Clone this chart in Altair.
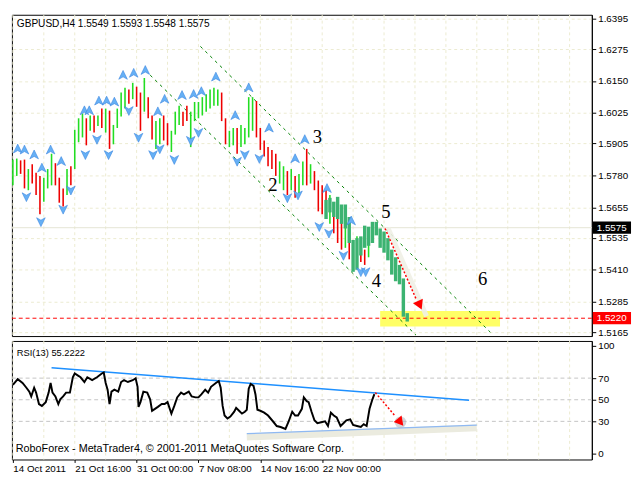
import json
import altair as alt
import pandas as pd

# ---------------- texts ----------------
symbol_text = "GBPUSD,H4  1.5549 1.5593 1.5548 1.5575"
rsi_text = "RSI(13) 55.2222"
credit_text = "RoboForex - MetaTrader4, \u00a9 2001-2011 MetaQuotes Software Corp."

# ---------------- axes ----------------
price_ticks = [1.6395, 1.6275, 1.6150, 1.6025, 1.5905, 1.5780, 1.5655,
               1.5535, 1.5410, 1.5285, 1.5165]
rsi_ticks = [0, 30, 50, 70, 100]
rsi_levels = [30, 50, 70]
date_ticks = [0, 32, 64, 96, 128, 160]
date_labels = ["14 Oct 2011", "21 Oct 16:00", "31 Oct 00:00", "7 Nov 08:00",
               "14 Nov 16:00", "22 Nov 00:00"]
grid_bars = [0, 16, 32, 48, 64, 80, 96, 112, 128, 144, 160, 176, 192, 208,
             224, 240, 256, 272, 288]

# ---------------- price bars (every second H4 bar) ----------------
bar_high = [1.5842, 1.5846, 1.5839, 1.5842, 1.5805, 1.5824, 1.5790, 1.5778, 1.5771, 1.5805,
            1.5865, 1.5828, 1.5771, 1.5729, 1.5805, 1.5816, 1.5959, 1.6004, 1.6023, 1.6004,
            1.6015, 1.6015, 1.6015, 1.6042, 1.6042, 1.6034, 1.5978, 1.6042, 1.6105, 1.6124,
            1.6117, 1.6143, 1.6128, 1.6105, 1.6162, 1.6087, 1.6015, 1.5993, 1.6004, 1.6015,
            1.5985, 1.5955, 1.6030, 1.6053, 1.6030, 1.6053, 1.6030, 1.6068, 1.6068, 1.6087,
            1.6098, 1.6117, 1.6124, 1.6117, 1.6105, 1.6004, 1.5955, 1.5966, 1.5966, 1.5978,
            1.5966, 1.6087, 1.6087, 1.6072, 1.5966, 1.5917, 1.5891, 1.5880, 1.5865, 1.5835,
            1.5816, 1.5797, 1.5805, 1.5778, 1.5786, 1.5835, 1.5884, 1.5824, 1.5797, 1.5760,
            1.5741, 1.5722, 1.5703, 1.5666, 1.5647, 1.5609, 1.5590, 1.5553, 1.5515, 1.5541,
            1.5515, 1.5489, 1.5553, 1.5593]
bar_low = [1.5741, 1.5778, 1.5786, 1.5729, 1.5722, 1.5748, 1.5703, 1.5628, 1.5677, 1.5729,
           1.5741, 1.5741, 1.5673, 1.5658, 1.5703, 1.5741, 1.5805, 1.5910, 1.5929, 1.5898,
           1.5955, 1.5948, 1.5974, 1.5966, 1.5948, 1.5884, 1.5902, 1.5966, 1.6011, 1.6042,
           1.6061, 1.6079, 1.6049, 1.5955, 1.6030, 1.6004, 1.5921, 1.5884, 1.5902, 1.5917,
           1.5898, 1.5872, 1.5940, 1.5978, 1.5974, 1.5993, 1.5891, 1.5993, 1.6004, 1.6015,
           1.6030, 1.6042, 1.6053, 1.6053, 1.5993, 1.5902, 1.5891, 1.5898, 1.5865, 1.5891,
           1.5902, 1.5929, 1.5955, 1.5929, 1.5880, 1.5854, 1.5816, 1.5805, 1.5778, 1.5748,
           1.5722, 1.5703, 1.5722, 1.5692, 1.5711, 1.5741, 1.5741, 1.5748, 1.5722, 1.5639,
           1.5628, 1.5609, 1.5590, 1.5553, 1.5515, 1.5489, 1.5496, 1.5451, 1.5421, 1.5414,
           1.5440, 1.5429, 1.5459, 1.5548]
bar_dir = ("ggrrgrrrgg" "grrrgrgggr" "grgrgrgggg" "rgrrgrrggr" "rgggrrgggg"
           "ggggrrggrg" "gggrrrrrrg" "grgrggrgrr" "rrgrrrgrrg" "rrgg")

# thick green path (analyst overlay)
fc_start = 162
fc_high = [1.5684, 1.5692, 1.5677, 1.5696, 1.5666, 1.5666, 1.5617, 1.5527, 1.5534, 1.5541,
           1.5583, 1.5579, 1.5598, 1.5598, 1.5572, 1.5560, 1.5534, 1.5489, 1.5459, 1.5429,
           1.5376, 1.5240]
fc_low = [1.5609, 1.5635, 1.5617, 1.5609, 1.5590, 1.5572, 1.5515, 1.5402, 1.5410, 1.5466,
          1.5496, 1.5504, 1.5515, 1.5545, 1.5496, 1.5477, 1.5447, 1.5391, 1.5365, 1.5353,
          1.5226, 1.5207]

# fractals
frac_up_bar = [2.5, 6, 11, 15, 19.5, 25, 37, 39.5, 44.5, 48.5, 52.5, 57, 62.5, 68.5,
               75, 78.5, 87.5, 93.5, 97.5, 105, 115, 122, 132.5, 146, 151, 162.5, 175]
frac_up_price = [1.5884, 1.5880, 1.5861, 1.5809, 1.5880, 1.5835, 1.6034, 1.6034, 1.6072,
                 1.6072, 1.6068, 1.6173, 1.6181, 1.6192, 1.6030, 1.6079, 1.6094, 1.6098,
                 1.6109, 1.6166, 1.6015, 1.6124, 1.5966, 1.5846, 1.5921, 1.5729, 1.5602]
frac_dn_bar = [7, 14.5, 26, 30, 37.5, 43.5, 49.5, 60, 65, 72.5, 76, 83.5, 92, 96,
               116, 120, 127.5, 142, 147.5, 158.5, 163.5, 171, 180, 182.5]
frac_dn_price = [1.5696, 1.5598, 1.5647, 1.5722, 1.5861, 1.5921, 1.5861, 1.6034, 1.5929,
                 1.5861, 1.5884, 1.5842, 1.5917, 1.5948, 1.5835, 1.5861, 1.5846, 1.5692,
                 1.5703, 1.5579, 1.5553, 1.5466, 1.5402, 1.5402]

# wave labels
wave_text = ["2", "3", "4", "5", "6"]
wave_bar = [134.5, 157.5, 188, 193, 243]
wave_price = [1.5741, 1.5929, 1.5365, 1.5635, 1.5372]

# channel
chan_upper_bar = [97, 247]
chan_upper_price = [1.6286, 1.5165]
chan_lower_bar = [68.5, 208.5]
chan_lower_price = [1.6192, 1.5154]

# target zone and levels
zone_bar = [190, 252]
zone_price = [1.5188, 1.5248]
support_level = 1.5220
last_close = 1.5575

# forecast arrow (price)
arrow_bar = [192.5, 208.5]
arrow_price = [1.5572, 1.5297]
shadow_bar = [194, 214]
shadow_price = [1.5575, 1.5228]
arrow_head_bar = [210.5]
arrow_head_price = [1.5271]

# ---------------- RSI ----------------
rsi_bar = [0, 2.5, 5, 7, 8.5, 9.5, 11, 12, 13.5, 15,
           17, 18.5, 19.5, 20.5, 22, 23.5, 24.5, 26, 27.5, 29.5,
           31, 32, 33.5, 35, 37, 38.5, 41, 43.5, 46, 47,
           48, 49, 50, 51, 52.5, 54.5, 56, 57.5, 59.5, 62,
           63.5, 64.5, 65, 66, 67.5, 69.5, 71, 72, 73.5, 75,
           77, 78.5, 80, 82, 83.5, 85, 87, 88.5, 91, 92.5,
           94.5, 96, 97.5, 99.5, 101, 102.5, 105, 106.5, 107.5, 108.5,
           109.5, 111, 112.5, 114.5, 115.5, 117, 118.5, 120, 121, 122,
           123, 124.5, 125.5, 126.5, 128, 130, 132, 134.5, 136.5, 138.5,
           141, 142.5, 144.5, 146, 147.5, 149.5, 150.5, 152, 153, 154.5,
           156, 157.5, 159.5, 161.5, 163, 164.5, 166, 167.5, 169.5, 171,
           172.5, 174.5, 176, 178, 180, 181.5, 183, 184.5, 186, 187]
rsi_val = [63.7, 69.0, 65.5, 61.1, 57.5, 53.1, 61.1, 56.6, 46.0, 44.3,
           47.8, 56.6, 65.5, 56.6, 53.1, 46.0, 50.4, 53.1, 56.6, 56.6,
           70.8, 74.3, 72.6, 70.8, 66.4, 70.8, 68.1, 70.8, 74.3, 75.2,
           65.5, 59.3, 46.0, 57.5, 59.3, 57.5, 66.4, 68.1, 66.4, 68.1,
           69.9, 62.0, 43.4, 47.8, 57.5, 56.6, 50.4, 39.8, 41.6, 43.4,
           46.0, 46.0, 47.8, 37.2, 44.3, 52.2, 56.6, 54.9, 57.5, 53.1,
           52.2, 52.2, 54.9, 59.3, 56.6, 62.0, 65.5, 67.3, 61.1, 44.3,
           35.4, 32.7, 34.5, 38.9, 42.5, 39.8, 37.2, 38.9, 40.7, 60.2,
           64.6, 62.8, 54.9, 40.7, 39.8, 38.1, 35.4, 30.1, 25.7, 24.8,
           23.0, 29.2, 38.9, 35.4, 35.4, 41.6, 52.2, 48.7, 47.8, 38.9,
           31.0, 28.3, 29.2, 30.1, 25.7, 38.1, 35.4, 33.6, 25.7, 28.3,
           31.0, 31.9, 26.6, 25.7, 24.8, 27.4, 25.7, 41.6, 50.4, 55.2]
rsi_upper_bar = [20, 236]
rsi_upper_val = [79.6, 49.6]
rsi_lower_bar = [121, 240]
rsi_lower_val = [18.6, 26.5]
rsi_shadow_val = [15.5, 24.0]
rsi_arrow_bar = [187.5, 197.5]
rsi_arrow_val = [56.6, 35.4]
rsi_head_bar = [200.5]
rsi_head_val = [29.2]

# ---------------- layout ----------------
W = 592
H1 = 328
H2 = 121
FONT = "Liberation Sans"
GRID = "#ecebd0"

xscale = alt.Scale(domain=[-0.5, 299.5], nice=False, zero=False)
pscale = alt.Scale(domain=[1.5150, 1.6410], nice=False, zero=False)
rscale = alt.Scale(domain=[-5.3, 104.4], nice=False, zero=False)

paxis = alt.Axis(orient="right", values=price_ticks, format=".4f", title=None,
                 grid=True, gridColor=GRID, gridDash=[3, 3], gridWidth=1,
                 domainColor="black", tickColor="black", tickSize=4,
                 labelColor="black", labelFont=FONT, labelFontSize=10,
                 labelPadding=2, labelOverlap=False)
raxis = alt.Axis(orient="right", values=rsi_ticks, format="d", title=None,
                 grid=False, domainColor="black", tickColor="black", tickSize=4,
                 labelColor="black", labelFont=FONT, labelFontSize=10,
                 labelPadding=2, labelOverlap=False)
label_expr = "[" + ",".join(json.dumps(s) for s in date_labels) + "][round(datum.value / 32)]"
daxis = alt.Axis(orient="bottom", values=date_ticks, labelExpr=label_expr, title=None,
                 grid=False, domain=False, tickColor="black", tickSize=3,
                 labelAlign="left", labelBaseline="top", labelPadding=1,
                 labelColor="black", labelFont=FONT, labelFontSize=10,
                 labelOverlap=False, labelFlush=False)


def XM(f):
    return alt.X(f, type="quantitative", scale=xscale, axis=None)


def XR(f):
    return alt.X(f, type="quantitative", scale=xscale, axis=daxis)


def YP(f):
    return alt.Y(f, type="quantitative", scale=pscale, axis=paxis)


def YR(f):
    return alt.Y(f, type="quantitative", scale=rscale, axis=raxis)


# ---------------- frames ----------------
bars_df = pd.DataFrame({"bar": [2 * i for i in range(len(bar_high))],
                        "high": bar_high, "low": bar_low, "dir": list(bar_dir)})
fc_df = pd.DataFrame({"bar": [fc_start + 2 * i for i in range(len(fc_high))],
                      "high": fc_high, "low": fc_low})
frac_df = pd.DataFrame({"bar": frac_up_bar + frac_dn_bar,
                        "p": frac_up_price + frac_dn_price,
                        "kind": ["up"] * len(frac_up_bar) + ["dn"] * len(frac_dn_bar)})
wave_df = pd.DataFrame({"bar": wave_bar, "p": wave_price, "t": wave_text})
chan_df = pd.DataFrame({"bar": chan_upper_bar + chan_lower_bar,
                        "p": chan_upper_price + chan_lower_price,
                        "line": ["u", "u", "l", "l"]})
zone_df = pd.DataFrame({"b1": [zone_bar[0]], "b2": [zone_bar[1]],
                        "p1": [zone_price[0]], "p2": [zone_price[1]]})
grid_df = pd.DataFrame({"bar": grid_bars})
tags_df = pd.DataFrame({"p": [last_close, support_level],
                        "label": ["%.4f" % last_close, "%.4f" % support_level],
                        "bg": ["#000000", "#ff0000"]})
arrow_df = pd.DataFrame({"bar": arrow_bar, "p": arrow_price})
shadow_df = pd.DataFrame({"bar": shadow_bar, "p": shadow_price})
head_df = pd.DataFrame({"bar": arrow_head_bar, "p": arrow_head_price})

rsi_df = pd.DataFrame({"bar": rsi_bar, "v": rsi_val})
rup_df = pd.DataFrame({"bar": rsi_upper_bar, "v": rsi_upper_val})
rlo_df = pd.DataFrame({"bar": rsi_lower_bar, "v": rsi_lower_val})
rsh_df = pd.DataFrame({"bar": rsi_lower_bar, "v": rsi_shadow_val})
rarrow_df = pd.DataFrame({"bar": rsi_arrow_bar, "v": rsi_arrow_val})
rhead_df = pd.DataFrame({"bar": rsi_head_bar, "v": rsi_head_val})
rlev_df = pd.DataFrame({"v": rsi_levels})

up_path = "M0,-1L0.9,0.85L0,0.35L-0.9,0.85Z"
dn_path = "M0,1L0.9,-0.85L0,-0.35L-0.9,-0.85Z"

# ---------------- main panel ----------------
vgrid_m = alt.Chart(grid_df).mark_rule(color=GRID, strokeDash=[3, 3], strokeWidth=1).encode(x=XM("bar"))
zone = alt.Chart(zone_df).mark_rect(color="#ffff66").encode(
    x=XM("b1"), x2="b2", y=YP("p1"), y2="p2")
bidline = alt.Chart(tags_df.iloc[[0]]).mark_rule(color="#e4e4d4", strokeWidth=1).encode(y=YP("p"))
supline = alt.Chart(tags_df.iloc[[1]]).mark_rule(color="#ff0000", strokeDash=[4, 3], strokeWidth=1).encode(y=YP("p"))
chan = alt.Chart(chan_df).mark_line(color="#008000", strokeDash=[3, 4], strokeWidth=1).encode(
    x=XM("bar"), y=YP("p"), detail="line:N")
bars = alt.Chart(bars_df).mark_rule(strokeWidth=1.6).encode(
    x=XM("bar"), y=YP("high"), y2="low",
    color=alt.Color("dir:N", scale=alt.Scale(domain=["g", "r"], range=["#22dd22", "#ee0000"]), legend=None))
fc = alt.Chart(fc_df).mark_rule(strokeWidth=3.5, color="#3cb371").encode(
    x=XM("bar"), y=YP("high"), y2="low")
frac = alt.Chart(frac_df).mark_point(filled=True, size=95, opacity=1, color="#66b0f5",
                                     stroke="#3b86e0", strokeWidth=0.6).encode(
    x=XM("bar"), y=YP("p"),
    shape=alt.Shape("kind:N", scale=alt.Scale(domain=["up", "dn"], range=[up_path, dn_path]), legend=None))
shadow = alt.Chart(shadow_df).mark_line(color="#efefe6", strokeWidth=5, opacity=0.9).encode(x=XM("bar"), y=YP("p"))
arrow = alt.Chart(arrow_df).mark_line(color="#ff0000", strokeDash=[2, 2], strokeWidth=1.5).encode(x=XM("bar"), y=YP("p"))
head = alt.Chart(head_df).mark_point(shape="triangle-up", filled=True, color="#ff0000", opacity=1,
                                     size=120, angle=156).encode(x=XM("bar"), y=YP("p"))
waves = alt.Chart(wave_df).mark_text(font="Liberation Serif", fontSize=19, color="black",
                                     align="center", baseline="middle").encode(
    x=XM("bar"), y=YP("p"), text="t:N")
header = alt.Chart(alt.Data(values=[{"t": symbol_text}])).mark_text(
    align="left", baseline="middle", font=FONT, fontSize=10.3, color="black").encode(
    x=alt.value(5), y=alt.value(9), text="t:N")
tag_box = alt.Chart(tags_df).transform_calculate(
    top="datum.p + 0.0024", bot="datum.p - 0.0024").mark_rect().encode(
    x=alt.value(W + 1), x2=alt.value(W + 40), y=YP("top"), y2="bot:Q",
    color=alt.Color("bg:N", scale=None))
tag_txt = alt.Chart(tags_df).mark_text(align="left", baseline="middle", font=FONT,
                                       fontSize=10, color="white").encode(
    x=alt.value(W + 5), y=YP("p"), text="label:N")

main = alt.layer(vgrid_m, zone, bidline, supline, chan, bars, fc, frac, shadow, arrow, head,
                 waves, header, tag_box, tag_txt).properties(width=W, height=H1)

# ---------------- RSI panel ----------------
vgrid_r = alt.Chart(grid_df).mark_rule(color=GRID, strokeDash=[3, 3], strokeWidth=1).encode(x=XR("bar"))
levels = alt.Chart(rlev_df).mark_rule(color="#c4c4c4", strokeDash=[4, 3], strokeWidth=1).encode(y=YR("v"))
rsh = alt.Chart(rsh_df).mark_line(color="#ebebdf", strokeWidth=7).encode(x=XR("bar"), y=YR("v"))
rlo = alt.Chart(rlo_df).mark_line(color="#8fb9f2", strokeWidth=1.2).encode(x=XR("bar"), y=YR("v"))
rup = alt.Chart(rup_df).mark_line(color="#1e90ff", strokeWidth=1.5).encode(x=XR("bar"), y=YR("v"))
rline = alt.Chart(rsi_df).mark_line(color="black", strokeWidth=2).encode(x=XR("bar"), y=YR("v"))
rarrow = alt.Chart(rarrow_df).mark_line(color="#ff0000", strokeDash=[2, 2], strokeWidth=1.5).encode(
    x=XR("bar"), y=YR("v"))
rblob = alt.Chart(rhead_df).mark_point(filled=True, color="#b8b8c0", opacity=0.6, size=140, shape="circle").encode(
    x=XR("bar"), y=YR("v"))
rhead = alt.Chart(rhead_df).mark_point(shape="triangle-up", filled=True, color="#ff0000", opacity=1,
                                       size=110, angle=140).encode(x=XR("bar"), y=YR("v"))
rtitle = alt.Chart(alt.Data(values=[{"t": rsi_text}])).mark_text(
    align="left", baseline="middle", font=FONT, fontSize=9.5, color="black").encode(
    x=alt.value(5), y=alt.value(12), text="t:N")
credit = alt.Chart(alt.Data(values=[{"t": credit_text}])).mark_text(
    align="left", baseline="middle", font=FONT, fontSize=11, color="black").encode(
    x=alt.value(4), y=alt.value(110), text="t:N")

rsi = alt.layer(vgrid_r, levels, rsh, rlo, rup, rline, rarrow, rblob, rhead, rtitle, credit).properties(
    width=W, height=H2)

chart = alt.vconcat(main, rsi, spacing=2).properties(
    padding={"left": 0, "top": 0, "right": 0, "bottom": 0}, background="white"
).configure_view(stroke="black", strokeWidth=1)

chart.save("out.html", embed_options={"renderer": "svg", "actions": False})
